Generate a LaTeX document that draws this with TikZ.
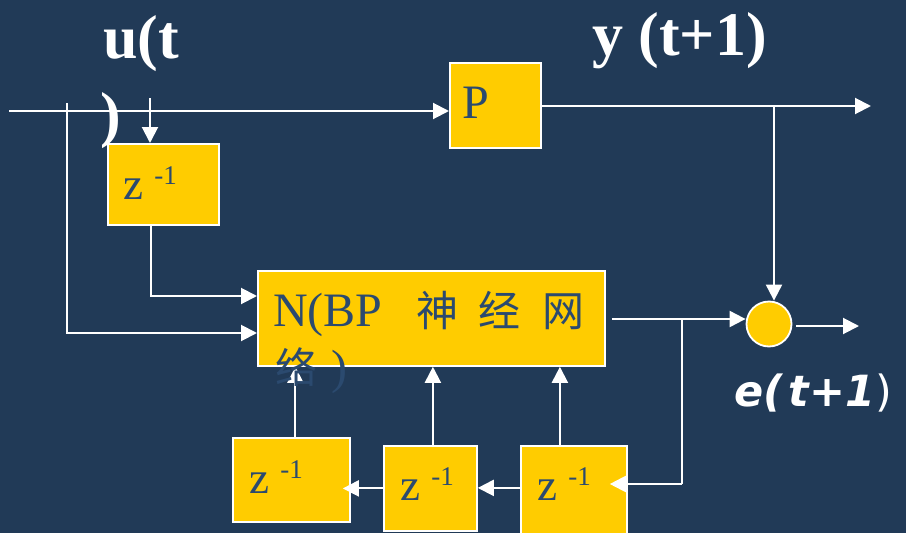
\documentclass[tikz,border=0pt]{standalone}
\usepackage{fontspec}
\setmainfont{Liberation Serif}
\newfontfamily\cjkfont{Noto Sans CJK SC}
\newfontfamily\efont{DejaVu Sans}
\usepackage{tikz}
\usetikzlibrary{arrows.meta}
\definecolor{bgc}{HTML}{213A57}
\definecolor{boxc}{HTML}{FFCC00}
\definecolor{txtc}{HTML}{2B4A6F}
\newcommand{\zinv}{z \raisebox{15pt}{\fontsize{27}{27}\selectfont -1}}
\tikzset{blk/.style={draw=white, line width=1.8pt, fill=boxc, inner sep=0, anchor=north west},
  arr/.style={white, line width=2pt, -{Triangle[length=16pt,width=16pt]}},
  wire/.style={white, line width=2pt},
  boxtxt/.style={inner sep=0, anchor=base west, text=txtc, font=\fontsize{45}{45}\selectfont},
  bigtxt/.style={inner sep=0, anchor=base west, text=white, font=\bfseries\fontsize{62}{62}\selectfont}}

\begin{document}
\begin{tikzpicture}[x=1pt,y=-1pt]
\useasboundingbox (0,0) rectangle (906,533);
\fill[bgc] (0,0) rectangle (906,533);
\clip (0,0) rectangle (906,533);
% blocks
\node[blk, minimum width=91, minimum height=85] (p) at (449,62) {};
\node[blk, minimum width=111, minimum height=81] (zu) at (107,143) {};
\node[blk, minimum width=347, minimum height=95] (n) at (257,270) {};
\node[blk, minimum width=117, minimum height=84] (z1) at (232,437) {};
\node[blk, minimum width=93, minimum height=85] (z2) at (383,445) {};
\node[blk, minimum width=106, minimum height=100] (z3) at (520,445) {};
\node[draw=white, line width=1.8pt, fill=boxc, circle, minimum size=45, inner sep=0] (sum) at (769,324) {};
% free ends
\coordinate (uin) at (9,111);
\coordinate (yout) at (871,106);
\coordinate (ytap) at (774,106);
\coordinate (utap) at (150,98);
\coordinate (zin) at (151,296);
\coordinate (ltap) at (67,103);
\coordinate (lcorner) at (67,333);
\coordinate (nout) at (682,319);
\coordinate (fb) at (682,484);
\coordinate (eout) at (859,326);
% connectors
\draw[arr] (uin) -- (uin -| p.west);
\draw[arr] (p.east |- yout) -- (yout);
\draw[arr] (ytap) -- (ytap |- sum.north);
\draw[arr] (utap) -- (utap |- zu.north);
\draw[arr] (zu.south -| zin) |- (n.west |- zin);
\draw[arr] (ltap) |- (n.west |- lcorner);
\draw[arr, shorten <=6pt] (n.east |- nout) -- (sum.west |- nout);
\draw[wire] (nout) -- (fb);
\draw[arr] (fb) -- ([xshift=-18pt]fb -| z3.east);
\draw[arr] ([yshift=8pt]z3.west) -- ([yshift=8pt]z3.west -| z2.east);
\draw[arr] (z2.west) -- ([xshift=-8pt]z2.west -| z1.east);
\draw[arr] ([xshift=4pt]z1.north) -- ([xshift=4pt]z1.north |- n.south);
\draw[arr] ([xshift=2.5pt]z2.north) -- ([xshift=2.5pt]z2.north |- n.south);
\draw[arr] ([xshift=-14pt]z3.north) -- ([xshift=-14pt]z3.north |- n.south);
\draw[arr, shorten <=4pt] (sum.east |- eout) -- (eout);
% labels
\node[bigtxt] (ulab1) at (103,58) {u(t};
\node[bigtxt] (ulab2) at (100,135) {)};
\node[bigtxt] (ylab) at (592,55) {y (t+1)};
\node[boxtxt, font=\fontsize{48}{48}\selectfont] (plab) at (462,118) {P};
\node[boxtxt] (zulab) at (123,199) {\zinv};
\node[boxtxt] (z1lab) at (249,493) {\zinv};
\node[boxtxt] (z2lab) at (400,500) {\zinv};
\node[boxtxt] (z3lab) at (537,500) {\zinv};
\node[boxtxt, font=\fontsize{48}{48}\selectfont] (nlab1) at (273,326)
  {N(BP\hspace{34pt}{\cjkfont\fontsize{42}{42}\selectfont 神\hspace{20pt}经\hspace{22pt}网}};
\node[boxtxt, font=\fontsize{48}{48}\selectfont] (nlab2) at (275,383)
  {{\cjkfont\fontsize{42}{42}\selectfont 络}\hspace{14pt})};
\node[inner sep=0, anchor=base west, text=white, font=\efont\fontsize{43}{43}\selectfont] (elab) at (734,406)
  {\textbf{\textit{e(\hspace{6pt}t+1}})};
\end{tikzpicture}
\end{document}
